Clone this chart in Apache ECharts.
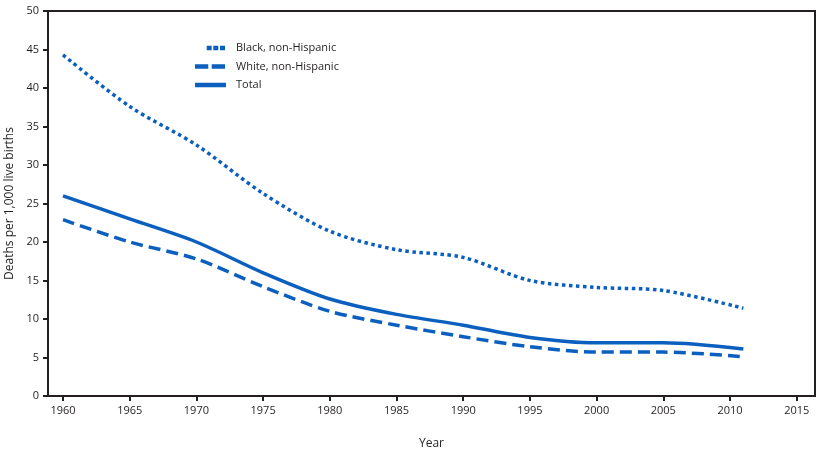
<!DOCTYPE html>
<html>
<head>
<meta charset="utf-8">
<script src="https://cdn.jsdelivr.net/npm/echarts@6/dist/echarts.min.js"></script>
<style>html,body{margin:0;padding:0;background:#fff;}#c{width:822px;height:450px;}</style>
</head>
<body>
<div id="c"></div>
<script>
const years = [1960, 1965, 1970, 1975, 1980, 1985, 1990, 1995, 2000, 2005, 2011];
const black = [44.3, 37.6, 32.6, 26.3, 21.4, 19.0, 18.0, 15.0, 14.1, 13.7, 11.4];
const white = [22.9, 20.0, 17.8, 14.2, 11.0, 9.2, 7.7, 6.4, 5.7, 5.7, 5.1];
const total = [26.0, 23.0, 20.0, 16.0, 12.6, 10.6, 9.2, 7.6, 6.9, 6.9, 6.1];
const xTicks = [1960, 1965, 1970, 1975, 1980, 1985, 1990, 1995, 2000, 2005, 2010, 2015];
const seriesNames = ['Black, non-Hispanic', 'White, non-Hispanic', 'Total'];

const color = '#0b5fbe';
const txt = '#231f20';
const font = 'Open Sans';
function pairs(vals){ return years.map((y,i)=>[y, vals[i]]); }

// legend glyphs (36 x 4.5 box, visible part in first 31px)
const edge = 'M0,0L0,4.5L0,0Z M36,0L36,4.5L36,0Z ';
const iconDot = 'path://' + edge + 'M11.7,0h5v4.5h-5Z M18.3,0h5v4.5h-5Z M25,0h5v4.5h-5Z';
const iconDash = 'path://' + edge + 'M0,0h13.3v4.5h-13.3Z M16.7,0h13.3v4.5h-13.3Z';
const iconSolid = 'path://' + edge + 'M0,0h31v4.5h-31Z';

const chart = echarts.init(document.getElementById('c'));
chart.setOption({
  animation: false,
  grid: { left: 48, right: 7, top: 11, bottom: 54, show: true, borderColor: txt, borderWidth: 2, outerBoundsMode: 'none' },
  legend: {
    orient: 'vertical', left: 190, top: 36, itemWidth: 36, itemHeight: 4.5, itemGap: 4.5,
    textStyle: { color: txt, fontSize: 11, fontFamily: font, lineHeight: 14 },
    data: [
      { name: seriesNames[0], icon: iconDot },
      { name: seriesNames[1], icon: iconDash },
      { name: seriesNames[2], icon: iconSolid }
    ]
  },
  xAxis: {
    type: 'value', min: 1958.875, max: 2016.37,
    name: 'Year', nameLocation: 'middle', nameGap: 42,
    nameTextStyle: { color: txt, fontSize: 12, fontFamily: font },
    splitLine: { show: false },
    axisLine: { lineStyle: { color: txt, width: 2 } },
    axisTick: { show: true, length: 5, lineStyle: { color: txt, width: 2 }, customValues: xTicks },
    axisLabel: { color: txt, fontSize: 11, fontFamily: font, margin: 9, customValues: xTicks, formatter: v => String(v) }
  },
  yAxis: {
    type: 'value', min: 0, max: 50, interval: 5,
    name: 'Deaths per 1,000 live births', nameLocation: 'middle', nameGap: 31,
    nameTextStyle: { color: txt, fontSize: 12, fontFamily: font },
    splitLine: { show: false },
    axisLine: { show: true, lineStyle: { color: txt, width: 2 } },
    axisTick: { show: true, length: 5, lineStyle: { color: txt, width: 2 } },
    axisLabel: { color: txt, fontSize: 11, fontFamily: font, margin: 9 }
  },
  series: [
    { name: seriesNames[0], type: 'line', data: pairs(black), smooth: 0.3, symbol: 'none',
      color: color, lineStyle: { color: color, width: 3.5, type: [3.5, 3.5], cap: 'butt' } },
    { name: seriesNames[1], type: 'line', data: pairs(white), smooth: 0.3, symbol: 'none',
      color: color, lineStyle: { color: color, width: 3.5, type: [12, 6], cap: 'butt' } },
    { name: seriesNames[2], type: 'line', data: pairs(total), smooth: 0.3, symbol: 'none',
      color: color, lineStyle: { color: color, width: 3.5, type: 'solid' } }
  ]
});
</script>
</body>
</html>
